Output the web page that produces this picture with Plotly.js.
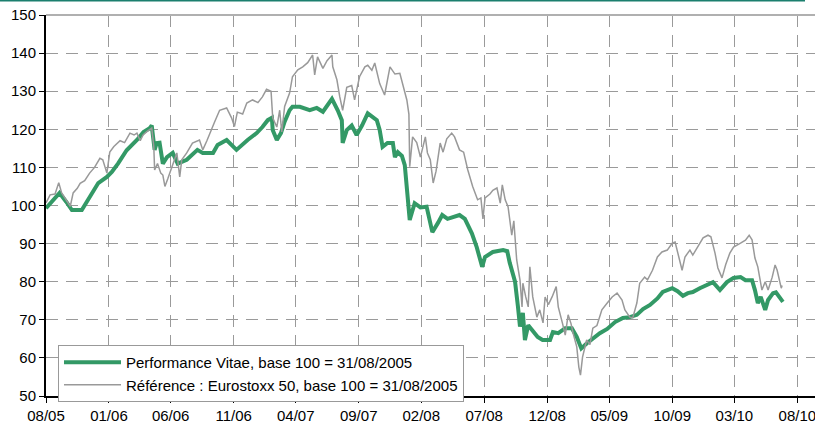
<!DOCTYPE html>
<html>
<head>
<meta charset="utf-8">
<script src="https://cdn.plot.ly/plotly-3.0.1.min.js"></script>
<style>html,body{margin:0;padding:0;background:#fff;overflow:hidden;}#chart{width:830px;height:427px;}</style>
</head>
<body>
<div id="chart"></div>
<script>
// Performance Vitae (base 100 = 31/08/2005)
const vitaeDates = ["2005-08-31","2005-09-15","2005-10-03","2005-10-19","2005-11-02","2005-11-26","2005-12-15","2006-01-05","2006-01-26","2006-02-07","2006-02-22","2006-03-15","2006-04-09","2006-04-25","2006-05-10","2006-05-15","2006-05-22","2006-05-27","2006-06-03","2006-06-11","2006-06-21","2006-07-05","2006-07-17","2006-08-08","2006-09-03","2006-09-16","2006-10-11","2006-10-22","2006-11-13","2006-11-28","2006-12-07","2007-01-03","2007-01-25","2007-02-08","2007-02-21","2007-03-03","2007-03-05","2007-03-15","2007-03-25","2007-04-03","2007-04-15","2007-04-22","2007-05-10","2007-06-03","2007-06-20","2007-07-05","2007-07-27","2007-08-10","2007-08-20","2007-08-22","2007-09-01","2007-09-13","2007-09-25","2007-10-08","2007-10-22","2007-11-13","2007-11-20","2007-11-27","2007-12-09","2007-12-22","2007-12-27","2008-01-03","2008-01-13","2008-01-20","2008-01-27","2008-02-01","2008-02-13","2008-02-27","2008-03-13","2008-03-27","2008-04-10","2008-04-20","2008-05-03","2008-05-20","2008-06-01","2008-06-14","2008-07-01","2008-07-13","2008-07-26","2008-08-02","2008-08-21","2008-09-15","2008-09-25","2008-10-01","2008-10-14","2008-10-21","2008-10-26","2008-11-02","2008-11-07","2008-11-15","2008-11-27","2008-12-08","2008-12-20","2009-01-07","2009-01-14","2009-01-27","2009-02-13","2009-03-01","2009-03-13","2009-03-24","2009-04-06","2009-04-21","2009-05-08","2009-05-26","2009-06-14","2009-07-03","2009-07-20","2009-08-06","2009-08-21","2009-09-07","2009-09-25","2009-10-08","2009-10-31","2009-11-13","2009-11-26","2009-12-08","2009-12-20","2010-01-06","2010-01-23","2010-02-07","2010-02-24","2010-03-13","2010-03-29","2010-04-15","2010-04-27","2010-05-13","2010-05-20","2010-05-27","2010-06-03","2010-06-14","2010-06-21","2010-07-03","2010-07-10","2010-07-20","2010-07-27"];
const vitaeValues = [99.3,101,103.3,101,98.8,98.8,102.2,105.9,107.5,108.8,111,114.5,117.2,119.3,120.3,121,114.6,116.4,116.5,111,112.7,113.8,111,112,114.6,113.8,113.8,115.9,117.2,115.4,114.6,117.2,119,120.6,122.4,123,119.8,117.2,119,122,125,125.9,125.9,125,125.6,124.6,128,125,122.4,116.4,119.8,121,118.5,121,124.2,122.4,119.8,115.4,116.4,116.4,112.7,114,113,110.6,103.2,96.2,100.6,99.5,99.7,93,95.5,97.5,96.5,97,97.5,96.5,92.7,89,83.9,86.5,87.8,88.3,88,85,80,73.5,68.2,71.8,64.7,68.6,67,65.5,64.7,64.7,66.8,66.5,67.8,67.8,65.5,62.5,63.8,65.2,66.5,67.6,69.4,70.5,70.7,71.3,72.8,73.9,75.6,77.3,78.3,77.5,76.3,77,77.3,78.3,79.1,79.9,77.8,79.9,81,81.2,80.4,80.4,77.8,74.4,76,72.6,75.2,77,77.2,75.7,74.7];

// Référence : Eurostoxx 50 (base 100 = 31/08/2005)
const refDates = ["2005-08-31","2005-09-10","2005-09-22","2005-10-01","2005-10-08","2005-10-19","2005-10-24","2005-10-29","2005-11-05","2005-11-15","2005-11-22","2005-12-03","2005-12-15","2005-12-27","2006-01-09","2006-01-16","2006-01-26","2006-02-02","2006-02-12","2006-02-27","2006-03-10","2006-03-23","2006-04-02","2006-04-09","2006-04-17","2006-04-24","2006-05-03","2006-05-15","2006-05-20","2006-05-22","2006-05-29","2006-06-06","2006-06-11","2006-06-16","2006-06-23","2006-07-02","2006-07-15","2006-07-22","2006-07-27","2006-08-08","2006-08-22","2006-09-08","2006-09-16","2006-09-26","2006-10-03","2006-10-15","2006-10-27","2006-11-13","2006-11-25","2006-12-02","2006-12-09","2006-12-22","2007-01-01","2007-01-15","2007-01-28","2007-02-08","2007-02-18","2007-03-01","2007-03-05","2007-03-15","2007-03-22","2007-03-27","2007-04-03","2007-04-15","2007-04-22","2007-05-05","2007-05-17","2007-05-29","2007-06-10","2007-06-15","2007-06-22","2007-07-05","2007-07-15","2007-07-27","2007-07-29","2007-08-08","2007-08-15","2007-08-22","2007-09-01","2007-09-13","2007-09-20","2007-10-02","2007-10-15","2007-10-22","2007-11-01","2007-11-08","2007-11-20","2007-12-02","2007-12-15","2007-12-27","2008-01-08","2008-01-15","2008-01-25","2008-01-30","2008-02-01","2008-02-08","2008-02-18","2008-02-27","2008-03-10","2008-03-15","2008-03-22","2008-03-29","2008-04-05","2008-04-15","2008-04-22","2008-05-01","2008-05-13","2008-05-20","2008-06-01","2008-06-11","2008-06-21","2008-07-03","2008-07-15","2008-07-23","2008-07-28","2008-08-02","2008-08-14","2008-08-21","2008-08-31","2008-09-08","2008-09-13","2008-09-20","2008-09-27","2008-10-06","2008-10-11","2008-10-18","2008-10-26","2008-10-31","2008-11-02","2008-11-09","2008-11-15","2008-11-19","2008-11-26","2008-12-06","2008-12-13","2008-12-21","2008-12-26","2009-01-03","2009-01-12","2009-01-22","2009-01-27","2009-02-06","2009-02-13","2009-02-20","2009-02-27","2009-03-04","2009-03-13","2009-03-18","2009-03-22","2009-03-27","2009-04-06","2009-04-14","2009-04-21","2009-05-01","2009-05-13","2009-05-26","2009-06-07","2009-06-19","2009-07-01","2009-07-08","2009-07-20","2009-07-27","2009-08-06","2009-08-13","2009-08-25","2009-09-01","2009-09-13","2009-09-25","2009-10-06","2009-10-19","2009-10-31","2009-11-07","2009-11-15","2009-11-24","2009-12-01","2009-12-13","2009-12-20","2009-12-30","2010-01-14","2010-01-26","2010-02-02","2010-02-12","2010-02-19","2010-03-01","2010-03-10","2010-03-20","2010-03-29","2010-04-15","2010-04-27","2010-05-06","2010-05-13","2010-05-20","2010-05-27","2010-06-06","2010-06-14","2010-06-21","2010-07-01","2010-07-08","2010-07-13","2010-07-23","2010-07-25"];
const refValues = [100.7,102.8,103,106,103.3,101.5,100.7,99.8,103.3,104.5,105.8,106.5,108.5,110,112.4,112,108.5,114,115.5,117,116.5,119,118.5,119,117,118.5,119.4,120.3,115.4,109.3,111,108.5,108,105,107,110,113.8,107.5,112,113.8,116.4,117.2,114.6,117,119,122,125,125.6,123,120.7,124.5,124,126.9,127.7,127,128.5,130.5,130,123,120.6,125,119.3,126,129.5,133.8,135.6,136.4,137.5,139.5,134.3,139,136,138,139.5,136.4,133,128.5,125,131,131.5,127.7,133.8,136.4,136.8,135.5,137.4,132,129,136.4,134.5,134.7,132,127.7,124,110.2,118,116.5,112.7,118,113.8,112,105.9,109,116.4,114,117.5,119,118,114.6,114,109.4,105,101.5,102,96.5,102,103,104,104.6,100.6,105.4,101.5,99.7,92.2,96,85.7,80.4,73.4,79.6,76,73.4,83.9,76,70.7,72.6,69.2,76,74,76,78.7,73.4,69.2,66,71.3,69,66.5,62.9,57.6,55.5,60.2,64.7,63.5,67.8,68.5,72.6,74.4,76,77,75.2,72.6,70.7,70.5,74.4,79.6,81.2,80.5,83,86.5,87.8,88.3,90.1,90.4,87,83,86.5,88.3,87,88.8,91.5,92.2,91.8,87.5,83.6,81,84.5,87.5,89.1,90.1,90.9,92.2,91,86.2,83.9,77.8,80,77.8,81.2,84.4,83,78.3,79];

const tickDates = ["2005-08-31","2006-01-31","2006-06-30","2006-11-30","2007-04-30","2007-09-30","2008-02-29","2008-07-31","2008-12-31","2009-05-31","2009-10-31","2010-03-31","2010-08-31"];
const tickLabels = ["08/05","01/06","06/06","11/06","04/07","09/07","02/08","07/08","12/08","05/09","10/09","03/10","08/10"];
const seriesNames = ["Performance Vitae, base 100 = 31/08/2005","Référence : Eurostoxx 50, base 100 = 31/08/2005"];

const font = "Liberation Sans, Arial, sans-serif";
const traces = [
  {x: vitaeDates, y: vitaeValues, type: "scatter", mode: "lines", name: seriesNames[0],
   line: {color: "#339966", width: 4}},
  {x: refDates, y: refValues, type: "scatter", mode: "lines", name: seriesNames[1],
   line: {color: "#999999", width: 1.5}}
];
const layout = {
  width: 830, height: 427,
  margin: {l: 46, r: 15, t: 15, b: 31},
  paper_bgcolor: "#fff", plot_bgcolor: "#fff",
  font: {family: font, color: "#000", size: 15},
  showlegend: true,
  legend: {x: 0.0156, y: 0.134, xanchor: "left", yanchor: "top",
    bgcolor: "#fff", bordercolor: "#999", borderwidth: 1,
    font: {family: font, size: 15, color: "#000"}, itemwidth: 57, tracegroupgap: 0},
  xaxis: {type: "date", range: ["2005-08-31", "2010-10-13"],
    tickmode: "array", tickvals: tickDates, ticktext: tickLabels,
    showgrid: true, gridcolor: "#9a9a9a", gridwidth: 1, griddash: "12px,8px",
    showline: true, linecolor: "#000", linewidth: 2,
    ticks: "outside", ticklen: 5, tickcolor: "#000", tickwidth: 1,
    tickfont: {family: font, size: 15}, zeroline: false, fixedrange: true},
  yaxis: {range: [50, 150], dtick: 10, tick0: 50,
    showgrid: true, gridcolor: "#9a9a9a", gridwidth: 1, griddash: "12px,8px",
    showline: true, linecolor: "#000", linewidth: 2,
    ticks: "outside", ticklen: 5, tickcolor: "#000", tickwidth: 1,
    tickfont: {family: font, size: 15}, zeroline: false, fixedrange: true},
  shapes: [
    {type: "line", xref: "paper", yref: "paper", x0: 0, x1: 1, y0: 1, y1: 1,
     line: {color: "#b0b0b0", width: 2}},
    {type: "line", xref: "paper", yref: "paper", x0: -0.06, x1: 0.987, y0: 1.038, y1: 1.038,
     line: {color: "#1b7f6e", width: 2}}
  ]
};
Plotly.newPlot("chart", traces, layout, {displayModeBar: false, staticPlot: true});
</script>
</body>
</html>
